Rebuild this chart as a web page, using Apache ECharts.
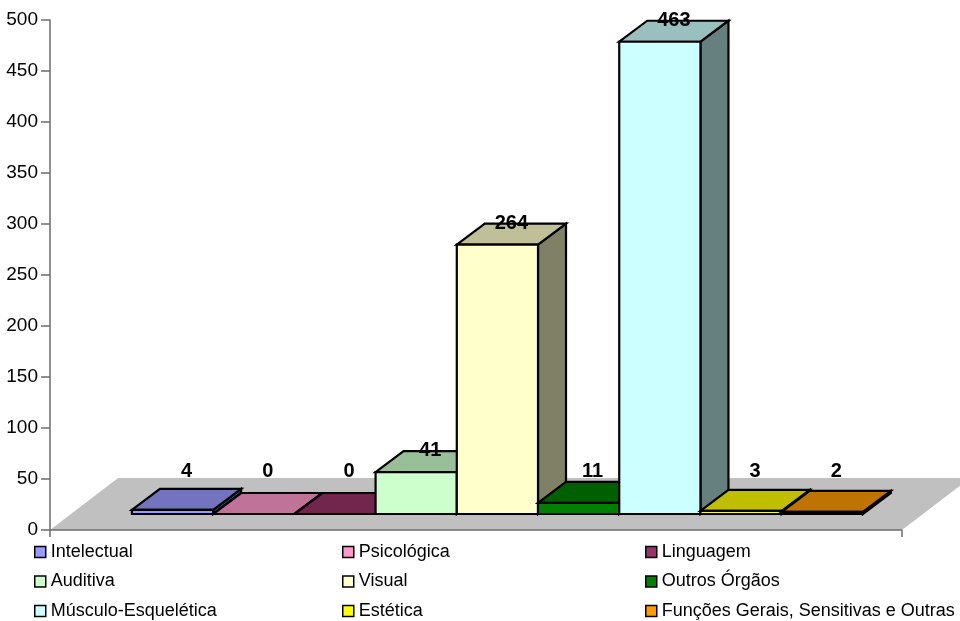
<!DOCTYPE html>
<html>
<head>
<meta charset="utf-8">
<script src="https://cdn.jsdelivr.net/npm/echarts@6/dist/echarts.min.js"></script>
<style>
  html, body { margin: 0; padding: 0; background: #ffffff; }
  #chart { width: 960px; height: 621px; }
</style>
</head>
<body>
<div id="chart"></div>
<script>
// Categories (one series per category, as in the original workbook)
const categories = [
  'Intelectual', 'Psicológica', 'Linguagem',
  'Auditiva', 'Visual', 'Outros Órgãos',
  'Músculo-Esquelética', 'Estética', 'Funções Gerais, Sensitivas e Outras'
];
// Counts per category
const values = [4, 0, 0, 41, 264, 11, 463, 3, 2];
// Front-face colours of the boxes
const colors = ['#9999FF', '#FF99CC', '#993366', '#CCFFCC', '#FFFFCC', '#008000', '#CCFFFF', '#FFFF00', '#FF9900'];
// Value axis
const yMin = 0, yMax = 500, yStep = 50;

// 3-D projection offsets in pixels (front plane of boxes, back plane, back edge of floor)
const FRONT = [21, -16];
const BACK = [49, -37];
const FLOOR = [68, -52];
// Horizontal extent of the floor in box-width units
const X_MIN = -0.75, X_MAX = 9.74;
const FONT = '"Liberation Sans", Arial, sans-serif';
const AXIS_COLOR = '#6b6b6b';

function shade(hex, f) {
  const n = parseInt(hex.slice(1), 16);
  const r = Math.round(((n >> 16) & 255) * f);
  const g = Math.round(((n >> 8) & 255) * f);
  const b = Math.round((n & 255) * f);
  return 'rgb(' + r + ',' + g + ',' + b + ')';
}

function renderFloor(params, api) {
  const a = api.coord([X_MIN, 0]);
  const b = api.coord([X_MAX, 0]);
  return {
    type: 'group',
    children: [
      {
        type: 'polygon',
        shape: { points: [[a[0], a[1]], [b[0], b[1]], [b[0] + FLOOR[0], b[1] + FLOOR[1]], [a[0] + FLOOR[0], a[1] + FLOOR[1]]] },
        style: { fill: '#C0C0C0' }
      },
      { type: 'line', shape: { x1: a[0], y1: a[1], x2: b[0], y2: b[1] }, style: { stroke: AXIS_COLOR, lineWidth: 1.5 } },
      { type: 'line', shape: { x1: a[0], y1: a[1], x2: a[0], y2: a[1] + 7 }, style: { stroke: AXIS_COLOR, lineWidth: 1.5 } },
      { type: 'line', shape: { x1: b[0], y1: b[1], x2: b[0], y2: b[1] + 7 }, style: { stroke: AXIS_COLOR, lineWidth: 1.5 } }
    ]
  };
}

function renderBox(params, api) {
  const i = api.value(0);
  const v = api.value(1);
  const c = colors[i];
  const bl = api.coord([i, 0]);
  const tr = api.coord([i + 1, v]);
  const xl = bl[0], xr = tr[0], yb = bl[1], yt = tr[1];
  const edge = { stroke: '#000', lineWidth: 2.2, lineJoin: 'miter' };
  const side = {
    type: 'polygon',
    shape: { points: [[xr + FRONT[0], yb + FRONT[1]], [xr + FRONT[0], yt + FRONT[1]], [xr + BACK[0], yt + BACK[1]], [xr + BACK[0], yb + BACK[1]]] },
    style: Object.assign({ fill: shade(c, 0.5) }, edge)
  };
  const top = {
    type: 'polygon',
    shape: { points: [[xl + FRONT[0], yt + FRONT[1]], [xr + FRONT[0], yt + FRONT[1]], [xr + BACK[0], yt + BACK[1]], [xl + BACK[0], yt + BACK[1]]] },
    style: Object.assign({ fill: shade(c, 0.75) }, edge)
  };
  const front = {
    type: 'rect',
    shape: { x: xl + FRONT[0], y: yt + FRONT[1], width: xr - xl, height: yb - yt },
    style: Object.assign({ fill: c }, edge)
  };
  const topCx = (xl + xr) / 2 + (FRONT[0] + BACK[0]) / 2;
  const topCy = yt + (FRONT[1] + BACK[1]) / 2;
  const label = {
    type: 'text',
    z2: 100,
    style: {
      x: topCx,
      y: Math.min(topCy - 11, 471),
      text: String(v),
      fill: '#000',
      font: 'bold 20px ' + FONT,
      align: 'center',
      verticalAlign: 'middle'
    }
  };
  return { type: 'group', children: [side, top, front, label] };
}

const series = [{
  type: 'custom',
  name: 'floor',
  z: 1,
  silent: true,
  renderItem: renderFloor,
  data: [[0, 0]],
  encode: { x: 0, y: 1 }
}];
categories.forEach(function (name, k) {
  series.push({
    type: 'custom',
    name: name,
    z: 2,
    itemStyle: { color: colors[k] },
    renderItem: renderBox,
    data: [[k, values[k]]],
    encode: { x: 0, y: 1 }
  });
});

function legendColumn(left, names) {
  return {
    orient: 'vertical',
    left: left,
    top: 542,
    padding: 0,
    itemGap: 9.5,
    itemWidth: 11,
    itemHeight: 11,
    icon: 'rect',
    selectedMode: false,
    itemStyle: { borderColor: '#000', borderWidth: 1.5 },
    textStyle: { fontFamily: FONT, fontSize: 18, color: '#000', lineHeight: 20 },
    data: names
  };
}

const chart = echarts.init(document.getElementById('chart'), null, { renderer: 'canvas' });
chart.setOption({
  animation: false,
  backgroundColor: '#ffffff',
  grid: { left: 50, right: 58, top: 20, bottom: 91, containLabel: false },
  xAxis: { type: 'value', min: X_MIN, max: X_MAX, show: false },
  yAxis: {
    type: 'value',
    min: yMin,
    max: yMax,
    interval: yStep,
    position: 'left',
    axisLine: { show: true, onZero: false, lineStyle: { color: AXIS_COLOR, width: 1.5 } },
    axisTick: { show: true, length: 9, lineStyle: { color: AXIS_COLOR, width: 1.5 } },
    axisLabel: { color: '#000', fontSize: 19, fontFamily: FONT, margin: 12 },
    splitLine: { show: false }
  },
  legend: [
    legendColumn(34, [categories[0], categories[3], categories[6]]),
    legendColumn(342, [categories[1], categories[4], categories[7]]),
    legendColumn(645, [categories[2], categories[5], categories[8]])
  ],
  series: series
});
</script>
</body>
</html>
